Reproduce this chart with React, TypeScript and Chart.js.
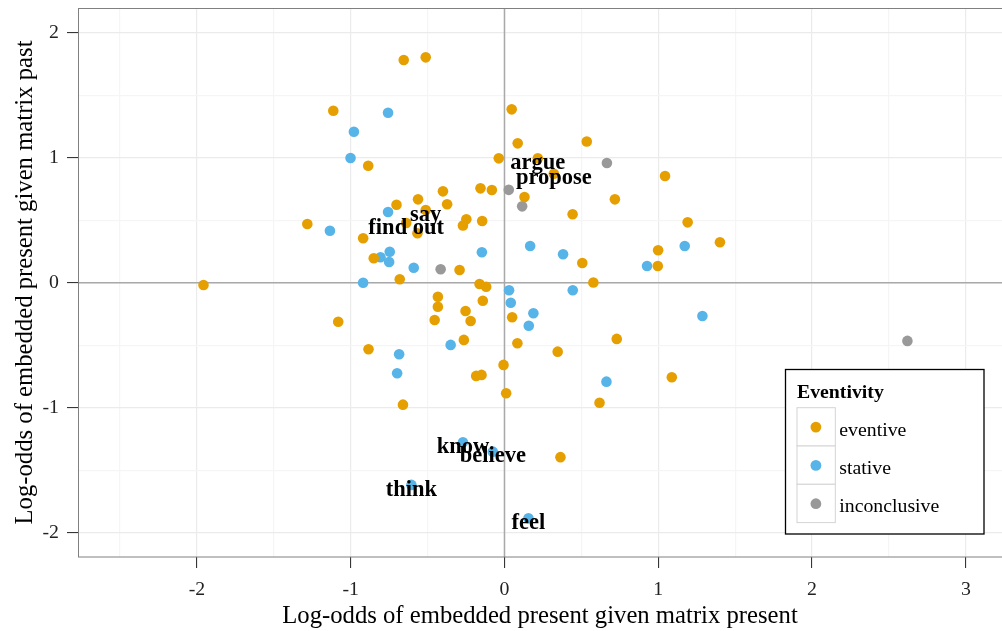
import React, { useEffect, useRef } from "react";
import { Chart, registerables } from "chart.js";

Chart.register(...registerables);

const FONT = "'Liberation Serif', 'Times New Roman', serif";

const categories = ["eventive", "stative", "inconclusive"];
const seriesColors = ["#E69F00", "#56B4E9", "#999999"];

const eventiveX = [-0.655, -0.512, -1.113, 0.047, -0.037, -0.886, -0.4, -0.156, -0.082, -0.702, -0.562, -0.373, -0.512, -0.248, -0.145, -0.27, -0.639, -0.566, -1.282, -0.919, -0.85, -0.681, -0.292, -1.957, -0.162, -0.119, 0.086, 0.535, 0.217, 0.321, 0.13, 1.044, 0.718, 0.443, 1.191, 1.401, 0.999, 0.506, 0.997, 0.578, -0.433, -0.433, -0.253, -0.141, -0.454, -0.22, -1.081, -0.264, -0.884, -0.006, -0.184, -0.149, 0.011, -0.66, 0.05, 0.084, 0.346, 0.73, 0.618, 1.088, 0.364];
const eventiveY = [1.782, 1.803, 1.376, 1.387, 0.995, 0.936, 0.731, 0.755, 0.742, 0.624, 0.667, 0.628, 0.582, 0.507, 0.494, 0.458, 0.478, 0.395, 0.47, 0.355, 0.195, 0.027, 0.102, -0.018, -0.01, -0.032, 1.115, 1.13, 0.995, 0.872, 0.686, 0.854, 0.667, 0.548, 0.483, 0.323, 0.259, 0.158, 0.134, 0.002, -0.112, -0.192, -0.226, -0.144, -0.298, -0.306, -0.312, -0.458, -0.533, -0.658, -0.746, -0.738, -0.885, -0.976, -0.277, -0.485, -0.552, -0.45, -0.961, -0.757, -1.396];

const stativeX = [-0.757, -0.979, -1.001, -0.757, -1.135, -0.746, -0.806, -0.75, -0.59, -0.147, -0.919, 0.03, 0.041, 0.167, 0.381, 1.172, 0.927, 0.444, 0.188, 0.158, 1.287, 0.663, -0.35, -0.685, -0.698, -0.27, -0.076, -0.605, 0.156];
const stativeY = [1.36, 1.208, 0.998, 0.566, 0.416, 0.248, 0.203, 0.166, 0.12, 0.243, 0.0, -0.061, -0.16, 0.294, 0.227, 0.294, 0.134, -0.06, -0.245, -0.344, -0.266, -0.792, -0.498, -0.573, -0.725, -1.277, -1.352, -1.618, -1.885];

const inconclusiveX = [-0.415, 0.028, 0.115, 0.666, 2.62];
const inconclusiveY = [0.107, 0.743, 0.611, 0.958, -0.466];

const labelWords = ["argue", "propose", "say", "find out", "know", "believe", "think", "feel"];
const labelX = [0.217, 0.321, -0.512, -0.639, -0.27, -0.076, -0.605, 0.156];
const labelY = [0.995, 0.872, 0.582, 0.478, -1.277, -1.352, -1.618, -1.885];

const xTicks = [-2.5, -2, -1.5, -1, -0.5, 0, 0.5, 1, 1.5, 2, 2.5, 3];
const yTicks = [-2, -1.5, -1, -0.5, 0, 0.5, 1, 1.5, 2];

const X_MIN = -2.773;
const X_MAX = 3.235;
const Y_MIN = -2.195;
const Y_MAX = 2.198;

const xTitle = "Log-odds of embedded present given matrix present";
const yTitle = "Log-odds of embedded present given matrix past";
const legendTitle = "Eventivity";

const seriesX = [eventiveX, stativeX, inconclusiveX];
const seriesY = [eventiveY, stativeY, inconclusiveY];

const isMajor = (v: number) => Number.isInteger(v);

const panelPlugin = {
  id: "panelDecor",
  beforeDatasetsDraw(chart: any) {
    const { ctx, chartArea: a, scales } = chart;
    const x0 = scales.x.getPixelForValue(0);
    const y0 = scales.y.getPixelForValue(0);
    ctx.save();
    ctx.beginPath();
    ctx.rect(a.left, a.top, a.right - a.left, a.bottom - a.top);
    ctx.clip();
    ctx.strokeStyle = "#a9a9a9";
    ctx.lineWidth = 1.5;
    ctx.beginPath();
    ctx.moveTo(a.left, y0);
    ctx.lineTo(a.right, y0);
    ctx.moveTo(x0, a.top);
    ctx.lineTo(x0, a.bottom);
    ctx.stroke();
    ctx.restore();
  },
  afterDatasetsDraw(chart: any) {
    const { ctx, chartArea: a, scales } = chart;
    ctx.save();
    ctx.fillStyle = "#000";
    ctx.font = `bold 22.5px ${FONT}`;
    ctx.textAlign = "center";
    ctx.textBaseline = "alphabetic";
    labelWords.forEach((w, i) => {
      const px = scales.x.getPixelForValue(labelX[i]);
      const py = scales.y.getPixelForValue(labelY[i]);
      ctx.fillText(w, px, py + 10.7);
    });
    ctx.strokeStyle = "#808080";
    ctx.lineWidth = 1;
    ctx.strokeRect(a.left + 0.5, a.top + 0.5, a.right - a.left + 10, a.bottom - a.top - 0.5);
    const L = { left: 785.5, top: 369.5, right: 984, bottom: 534 };
    ctx.fillStyle = "#fff";
    ctx.fillRect(L.left, L.top, L.right - L.left, L.bottom - L.top);
    ctx.strokeStyle = "#000";
    ctx.lineWidth = 1.3;
    ctx.strokeRect(L.left, L.top, L.right - L.left, L.bottom - L.top);
    ctx.fillStyle = "#000";
    ctx.textAlign = "left";
    ctx.font = `bold 19.8px ${FONT}`;
    ctx.fillText(legendTitle, 797, 398.3);
    const ds = chart.data.datasets;
    ds.forEach((d: any, i: number) => {
      const top = 407.7 + i * 38.3;
      ctx.fillStyle = "#fff";
      ctx.fillRect(797, top, 38.3, 38.3);
      ctx.strokeStyle = "#d4d4d4";
      ctx.lineWidth = 1;
      ctx.strokeRect(797, top, 38.3, 38.3);
      ctx.fillStyle = d.backgroundColor;
      ctx.beginPath();
      ctx.arc(815.9, top + 19.4, 5.4, 0, Math.PI * 2);
      ctx.fill();
      ctx.fillStyle = "#000";
      ctx.font = `19.8px ${FONT}`;
      ctx.fillText(d.label, 839.3, top + 28);
    });
    ctx.restore();
  },
};

const zeroPadding = (s: any) => {
  s.paddingTop = 0;
  s.paddingBottom = 0;
  s.paddingLeft = 0;
  s.paddingRight = 0;
};

export default function App() {
  const ref = useRef<HTMLCanvasElement | null>(null);
  useEffect(() => {
    document.body.style.margin = "0";
    if (!ref.current) return;
    const datasets = categories.map((c, i) => ({
      label: c,
      data: seriesX[i].map((x, j) => ({ x, y: seriesY[i][j] })),
      backgroundColor: seriesColors[i],
      borderWidth: 0,
      pointRadius: 5.3,
      pointHoverRadius: 5.3,
    }));
    const tickColor = (ctx: any) => (ctx.tick && isMajor(ctx.tick.value) ? "#222" : "rgba(0,0,0,0)");
    const gridColor = (ctx: any) => (ctx.tick && isMajor(ctx.tick.value) ? "#ebebeb" : "#f5f5f5");
    const chart = new Chart(ref.current, {
      type: "scatter",
      data: { datasets },
      plugins: [panelPlugin],
      options: {
        animation: false,
        responsive: false,
        devicePixelRatio: 1,
        layout: { autoPadding: false, padding: { top: 8, right: 0, left: 0, bottom: 0 } },
        plugins: { legend: { display: false }, tooltip: { enabled: false } },
        scales: {
          x: {
            type: "linear",
            min: X_MIN,
            max: X_MAX,
            afterBuildTicks: (s: any) => {
              s.ticks = xTicks.map((v) => ({ value: v }));
            },
            afterFit: (s: any) => {
              s.height = 74;
              zeroPadding(s);
            },
            ticks: {
              autoSkip: false,
              maxRotation: 0,
              padding: 10,
              color: "#222",
              font: { family: FONT, size: 19.8 },
              callback: (v: any) => (isMajor(Number(v)) ? String(v) : ""),
            },
            grid: {
              color: gridColor,
              lineWidth: 1.2,
              drawTicks: true,
              tickLength: 11,
              tickWidth: 1,
              tickColor,
            },
            border: { display: false },
            title: {
              display: true,
              text: xTitle,
              color: "#000",
              font: { family: FONT, size: 24.7 },
              padding: { top: 0, bottom: 0 },
            },
          },
          y: {
            type: "linear",
            min: Y_MIN,
            max: Y_MAX,
            afterBuildTicks: (s: any) => {
              s.ticks = yTicks.map((v) => ({ value: v }));
            },
            afterFit: (s: any) => {
              s.width = 78;
              zeroPadding(s);
            },
            ticks: {
              autoSkip: false,
              padding: 8,
              color: "#222",
              font: { family: FONT, size: 19.8 },
              callback: (v: any) => (isMajor(Number(v)) ? String(v) : ""),
            },
            grid: {
              color: gridColor,
              lineWidth: 1.2,
              drawTicks: true,
              tickLength: 11,
              tickWidth: 1,
              tickColor,
            },
            border: { display: false },
            title: {
              display: true,
              text: yTitle,
              color: "#000",
              font: { family: FONT, size: 24.7 },
              padding: { top: 11, bottom: 0 },
            },
          },
        },
      },
    });
    return () => chart.destroy();
  }, []);
  return (
    <div style={{ width: 1002, height: 631 }}>
      <canvas ref={ref} width={1002} height={631} style={{ display: "block" }} />
    </div>
  );
}
